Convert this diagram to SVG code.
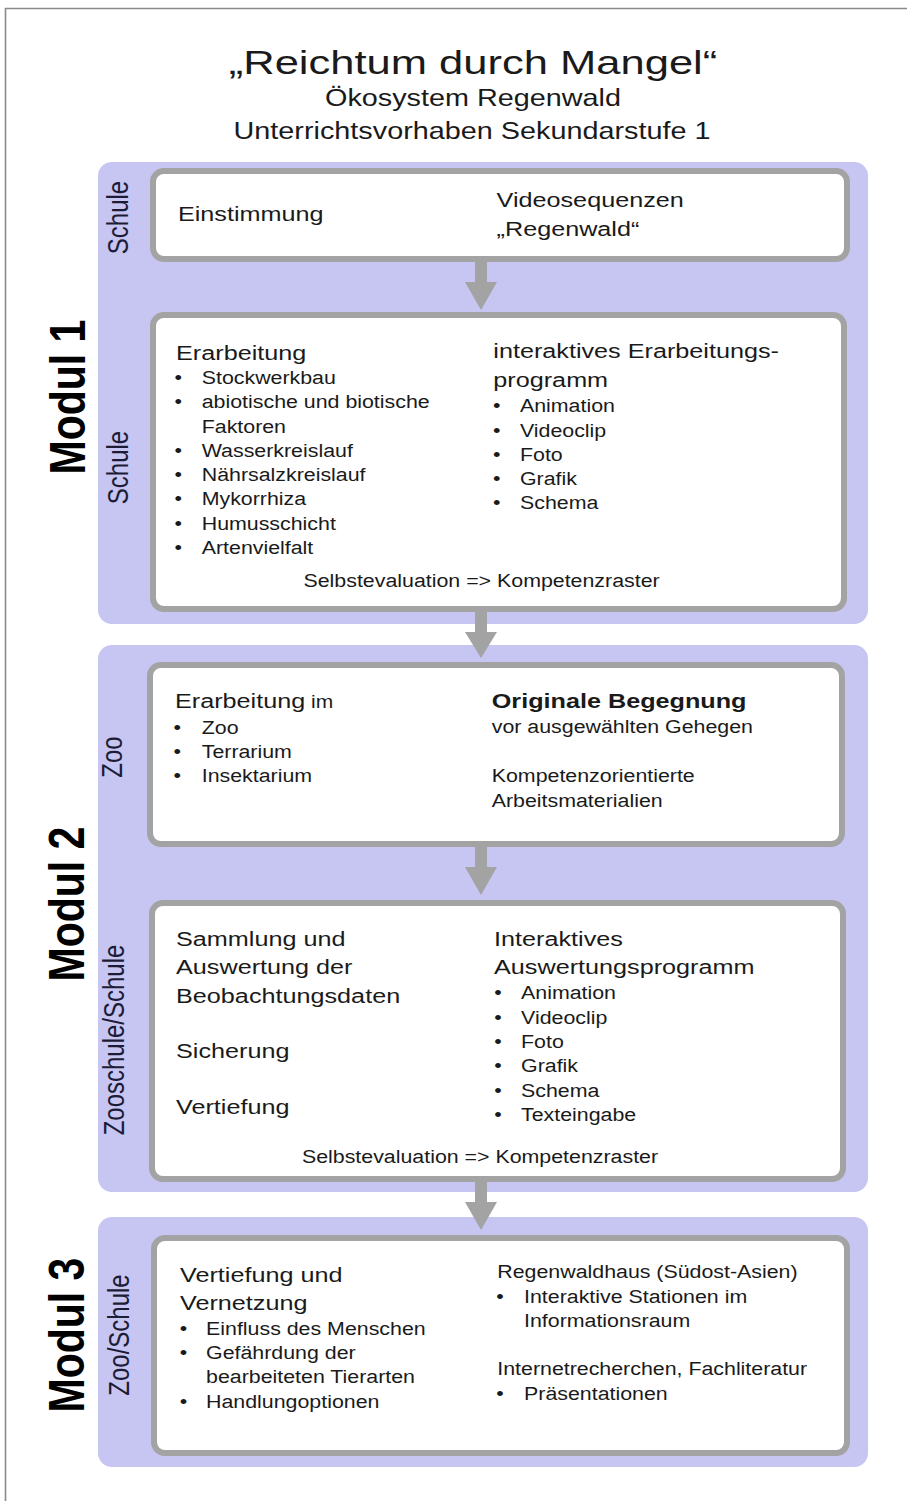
<svg xmlns="http://www.w3.org/2000/svg" width="907" height="1501" viewBox="0 0 907 1501">
<style>
.panel{fill:#c7c5f2}
.box{fill:#ffffff;stroke:#a3a3a3;stroke-width:6}
.arrow{fill:#a3a3a3}
text{font-family:"Liberation Sans",Arial,sans-serif;fill:#1a1a1a}
.h{font-size:21px}
.b{font-size:17.8px}
.side{font-size:24px;fill:#1c1c36}
.mod{font-size:41px;font-weight:bold;fill:#000}
.mid{text-anchor:middle}
.bold{font-weight:bold}
</style>
<rect width="907" height="1501" fill="#ffffff"/>
<path d="M5.5 1501 V8.5 H907" stroke="#8a8a8a" stroke-width="1.6" fill="none"/>

<g id="title">
<text transform="translate(473,74) scale(1.28,1)" class="mid" font-size="34">„Reichtum durch Mangel“</text>
<text transform="translate(473,106) scale(1.2,1)" class="mid" font-size="24">Ökosystem Regenwald</text>
<text transform="translate(472,139) scale(1.2,1)" class="mid" font-size="24">Unterrichtsvorhaben Sekundarstufe 1</text>
</g>

<g id="modul1">
<rect class="panel" x="98" y="162" width="770" height="462" rx="14"/>
<g transform="scale(1.2,1)">
<text class="mod mid" transform="translate(70.5,397) rotate(-90)">Modul 1</text>
<text class="side mid" transform="translate(106.7,217.5) rotate(-90)">Schule</text>
<text class="side mid" transform="translate(106.7,467.5) rotate(-90)">Schule</text>
</g>
</g>
<g id="modul2">
<rect class="panel" x="98" y="645" width="770" height="547" rx="14"/>
<g transform="scale(1.2,1)">
<text class="mod mid" transform="translate(70,904) rotate(-90)">Modul 2</text>
<text class="side mid" transform="translate(101.7,757) rotate(-90)">Zoo</text>
<text class="side mid" transform="translate(103.3,1040) rotate(-90)">Zooschule/Schule</text>
</g>
</g>
<g id="modul3">
<rect class="panel" x="98" y="1217" width="770" height="250" rx="14"/>
<g transform="scale(1.2,1)">
<text class="mod mid" transform="translate(70,1335) rotate(-90)">Modul 3</text>
<text class="side mid" transform="translate(107.5,1335) rotate(-90)">Zoo/Schule</text>
</g>
</g>

<g id="connectors">
<polygon class="arrow" points="475,262 487,262 487,282 497,282 481,310 465,282 475,282"/>
<polygon class="arrow" points="475,612 487,612 487,632 497,632 481,658 465,632 475,632"/>
<polygon class="arrow" points="475,847 487,847 487,867 497,867 481,895 465,867 475,867"/>
<polygon class="arrow" points="475,1182 487,1182 487,1202 497,1202 481,1230 465,1202 475,1202"/>
</g>

<g id="einstimmung">
<rect class="box" x="153" y="171" width="694" height="88" rx="11"/>
<g transform="scale(1.2,1)">
<text class="h" x="148.3" y="221.5">Einstimmung</text>
<text class="h" x="413.8" y="206.7">Videosequenzen</text>
<text class="h" x="413.8" y="236">„Regenwald“</text>
</g>
</g>

<g id="erarbeitung">
<rect class="box" x="153" y="315" width="691" height="294" rx="11"/>
<g transform="scale(1.2,1)">
<text class="h" x="146.7" y="360">Erarbeitung</text>
<text class="b" x="145.4" y="384">•</text><text class="b" x="168.1" y="384">Stockwerkbau</text>
<text class="b" x="145.4" y="408.3">•</text><text class="b" x="168.1" y="408.3">abiotische und biotische</text>
<text class="b" x="168.1" y="432.6">Faktoren</text>
<text class="b" x="145.4" y="456.9">•</text><text class="b" x="168.1" y="456.9">Wasserkreislauf</text>
<text class="b" x="145.4" y="481.2">•</text><text class="b" x="168.1" y="481.2">Nährsalzkreislauf</text>
<text class="b" x="145.4" y="505.5">•</text><text class="b" x="168.1" y="505.5">Mykorrhiza</text>
<text class="b" x="145.4" y="529.8">•</text><text class="b" x="168.1" y="529.8">Humusschicht</text>
<text class="b" x="145.4" y="554.1">•</text><text class="b" x="168.1" y="554.1">Artenvielfalt</text>
<text class="h" x="411.1" y="358">interaktives Erarbeitungs-</text>
<text class="h" x="411.1" y="386.7">programm</text>
<text class="b" x="410.8" y="412.3">•</text><text class="b" x="433.3" y="412.3">Animation</text>
<text class="b" x="410.8" y="436.6">•</text><text class="b" x="433.3" y="436.6">Videoclip</text>
<text class="b" x="410.8" y="460.9">•</text><text class="b" x="433.3" y="460.9">Foto</text>
<text class="b" x="410.8" y="485.2">•</text><text class="b" x="433.3" y="485.2">Grafik</text>
<text class="b" x="410.8" y="509.5">•</text><text class="b" x="433.3" y="509.5">Schema</text>
<text class="b mid" x="401.3" y="587">Selbstevaluation =&gt; Kompetenzraster</text>
</g>
</g>

<g id="zoo">
<rect class="box" x="150" y="665" width="692" height="179" rx="11"/>
<g transform="scale(1.2,1)">
<text class="h" x="145.8" y="708.3">Erarbeitung<tspan font-size="17.5"> im</tspan></text>
<text class="b" x="144.7" y="734">•</text><text class="b" x="168.1" y="734">Zoo</text>
<text class="b" x="144.7" y="758.3">•</text><text class="b" x="168.1" y="758.3">Terrarium</text>
<text class="b" x="144.7" y="782">•</text><text class="b" x="168.1" y="782">Insektarium</text>
<text class="h bold" x="409.8" y="708.3">Originale Begegnung</text>
<text class="b" x="409.8" y="733.3">vor ausgewählten Gehegen</text>
<text class="b" x="409.8" y="781.7">Kompetenzorientierte</text>
<text class="b" x="409.8" y="806.7">Arbeitsmaterialien</text>
</g>
</g>

<g id="auswertung">
<rect class="box" x="152" y="903" width="691" height="276" rx="11"/>
<g transform="scale(1.2,1)">
<text class="h" x="146.7" y="946">Sammlung und</text>
<text class="h" x="146.7" y="974.5">Auswertung der</text>
<text class="h" x="146.7" y="1003">Beobachtungsdaten</text>
<text class="h" x="146.7" y="1058.5">Sicherung</text>
<text class="h" x="146.7" y="1114.5">Vertiefung</text>
<text class="h" x="411.7" y="946">Interaktives</text>
<text class="h" x="411.7" y="974.5">Auswertungsprogramm</text>
<text class="b" x="411.9" y="999.5">•</text><text class="b" x="434.2" y="999.5">Animation</text>
<text class="b" x="411.9" y="1023.8">•</text><text class="b" x="434.2" y="1023.8">Videoclip</text>
<text class="b" x="411.9" y="1048">•</text><text class="b" x="434.2" y="1048">Foto</text>
<text class="b" x="411.9" y="1072.4">•</text><text class="b" x="434.2" y="1072.4">Grafik</text>
<text class="b" x="411.9" y="1096.7">•</text><text class="b" x="434.2" y="1096.7">Schema</text>
<text class="b" x="411.9" y="1121">•</text><text class="b" x="434.2" y="1121">Texteingabe</text>
<text class="b mid" x="400" y="1163.5">Selbstevaluation =&gt; Kompetenzraster</text>
</g>
</g>

<g id="vertiefung">
<rect class="box" x="154" y="1238" width="693" height="215" rx="11"/>
<g transform="scale(1.2,1)">
<text class="h" x="150" y="1281.7">Vertiefung und</text>
<text class="h" x="150" y="1310">Vernetzung</text>
<text class="b" x="149.7" y="1335">•</text><text class="b" x="171.7" y="1335">Einfluss des Menschen</text>
<text class="b" x="149.7" y="1359.3">•</text><text class="b" x="171.7" y="1359.3">Gefährdung der</text>
<text class="b" x="171.7" y="1383.3">bearbeiteten Tierarten</text>
<text class="b" x="149.7" y="1408.3">•</text><text class="b" x="171.7" y="1408.3">Handlungoptionen</text>
<text class="b" x="414.4" y="1278.3">Regenwaldhaus (Südost-Asien)</text>
<text class="b" x="413.6" y="1303.3">•</text><text class="b" x="436.7" y="1303.3">Interaktive Stationen im</text>
<text class="b" x="436.7" y="1326.7">Informationsraum</text>
<text class="b" x="414.4" y="1375">Internetrecherchen, Fachliteratur</text>
<text class="b" x="413.6" y="1400">•</text><text class="b" x="436.7" y="1400">Präsentationen</text>
</g>
</g>
</svg>
